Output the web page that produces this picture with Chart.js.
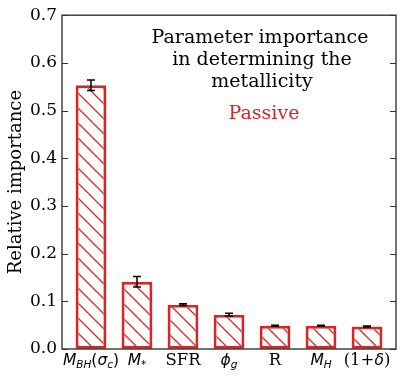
<!DOCTYPE html>
<html>
<head>
<meta charset="utf-8">
<script src="https://cdn.jsdelivr.net/npm/chart.js@4"></script>
<style>
  html, body { margin: 0; padding: 0; background: #fff; }
  #wrap { width: 407px; height: 379px; }
</style>
</head>
<body>
<div id="wrap"><canvas id="chart"></canvas></div>
<script>
// values
const categories = ['M_BH(σ_c)', 'M_*', 'SFR', 'φ_g', 'R', 'M_H', '(1+δ)'];
const importance = [0.553, 0.141, 0.093, 0.072, 0.049, 0.049, 0.047];
const errors = [0.011, 0.011, 0.002, 0.003, 0.001, 0.001, 0.001];
const yTicks = [0.0, 0.1, 0.2, 0.3, 0.4, 0.5, 0.6, 0.7];

const red = '#d62728';
const serif = '"DejaVu Serif", serif';
const sans = '"DejaVu Sans", sans-serif';

// hatch '\\'
function hatch() {
    const s = 15;
    const c = document.createElement('canvas');
    c.width = s; c.height = s;
    const g = c.getContext('2d');
    g.fillStyle = '#fff';
    g.fillRect(0, 0, s, s);
    g.strokeStyle = red;
    g.lineWidth = 1.3;
    g.beginPath();
    g.moveTo(-2, -2); g.lineTo(s + 2, s + 2);
    g.moveTo(-2, s - 2); g.lineTo(2, s + 2);
    g.moveTo(s - 2, -2); g.lineTo(s + 2, 2);
    g.stroke();
    return g.createPattern(c, 'repeat');
}

// tick label pieces: [text, italic, subscript, serif]
const labelParts = [
    [['M', 1, 0], ['BH', 1, 1], ['(', 0, 0], ['σ', 1, 0], ['c', 1, 1], [')', 0, 0]],
    [['M', 1, 0], ['*', 0, 1]],
    [['SFR', 0, 0, 1]],
    [['ϕ', 1, 0], ['g', 1, 1]],
    [['R', 0, 0, 1]],
    [['M', 1, 0], ['H', 1, 1]],
    [['(1+', 0, 0, 1], ['δ', 1, 0], [')', 0, 0, 1]]
];

function partFont(p) {
    const size = p[2] ? 10.5 : (p[3] ? 16.5 : 15.5);
    const fam = p[3] ? serif : sans;
    return (p[1] ? 'italic ' : '') + size + 'px ' + fam;
}

const frame = {
    id: 'frame',
    afterDraw(chart) {
        const ctx = chart.ctx;
        const a = chart.chartArea;
        const x = chart.scales.x, y = chart.scales.y;
        ctx.save();

        // error bars
        ctx.strokeStyle = '#000';
        ctx.lineWidth = 1.5;
        importance.forEach((v, i) => {
            const px = x.getPixelForValue(i);
            const top = y.getPixelForValue(v + errors[i]);
            const bot = y.getPixelForValue(v - errors[i]);
            ctx.beginPath();
            ctx.moveTo(px, top); ctx.lineTo(px, bot);
            ctx.moveTo(px - 4, top); ctx.lineTo(px + 4, top);
            ctx.moveTo(px - 4, bot); ctx.lineTo(px + 4, bot);
            ctx.stroke();
        });

        // axes box
        ctx.strokeStyle = '#444';
        ctx.lineWidth = 1.5;
        ctx.strokeRect(a.left, a.top, a.right - a.left, a.bottom - a.top);

        // inward ticks on left and right
        ctx.lineWidth = 1;
        ctx.strokeStyle = '#333';
        yTicks.forEach(t => {
            const py = Math.round(y.getPixelForValue(t)) + 0.5;
            ctx.beginPath();
            ctx.moveTo(a.left, py); ctx.lineTo(a.left + 6, py);
            ctx.moveTo(a.right, py); ctx.lineTo(a.right - 6, py);
            ctx.stroke();
        });

        // x tick labels with subscripts
        ctx.fillStyle = '#000';
        ctx.textBaseline = 'alphabetic';
        ctx.textAlign = 'left';
        labelParts.forEach((parts, i) => {
            let w = 0;
            parts.forEach(p => { ctx.font = partFont(p); w += ctx.measureText(p[0]).width; });
            let px = x.getPixelForValue(i) - w / 2;
            const base = a.bottom + 16;
            parts.forEach(p => {
                ctx.font = partFont(p);
                ctx.fillText(p[0], px, base + (p[2] ? 3 : 0));
                px += ctx.measureText(p[0]).width;
            });
        });

        // annotation text
        ctx.textAlign = 'center';
        ctx.textBaseline = 'middle';
        ctx.font = '19px ' + serif;
        ctx.fillStyle = '#000';
        ctx.fillText('Parameter importance', 260, 38);
        ctx.fillText('in determining the', 262, 60);
        ctx.fillText('metallicity', 262, 82);
        ctx.fillStyle = red;
        ctx.fillText('Passive', 264, 114);

        ctx.restore();
    }
};

new Chart(document.getElementById('chart'), {
    type: 'bar',
    data: {
        datasets: [{
            data: categories.map((c, i) => ({ x: i, y: importance[i] })),
            backgroundColor: hatch(),
            borderColor: red,
            borderWidth: 3,
            borderSkipped: false,
            categoryPercentage: 1,
            barPercentage: 0.67
        }]
    },
    options: {
        responsive: true,
        maintainAspectRatio: false,
        animation: false,
        layout: { padding: { top: 15, right: 11, left: 0, bottom: 0 } },
        plugins: { legend: { display: false }, tooltip: { enabled: false } },
        scales: {
            x: {
                type: 'linear',
                offset: false,
                min: -0.63,
                max: 6.63,
                grid: { display: false, drawTicks: false },
                border: { display: false },
                ticks: { display: false },
                afterFit: s => { s.height = 30; }
            },
            y: {
                min: 0,
                max: 0.7,
                grid: { display: false, drawTicks: false },
                border: { display: false },
                afterFit: s => { s.width = 62; },
                afterBuildTicks: s => { s.ticks = yTicks.map(v => ({ value: v })); },
                ticks: {
                    color: '#000',
                    padding: 5,
                    font: { family: serif, size: 17 },
                    callback: v => v.toFixed(1)
                },
                title: {
                    display: true,
                    text: 'Relative importance',
                    color: '#000',
                    font: { family: serif, size: 18 },
                    padding: { top: 6, bottom: 0 }
                }
            }
        }
    },
    plugins: [frame]
});
</script>
</body>
</html>
